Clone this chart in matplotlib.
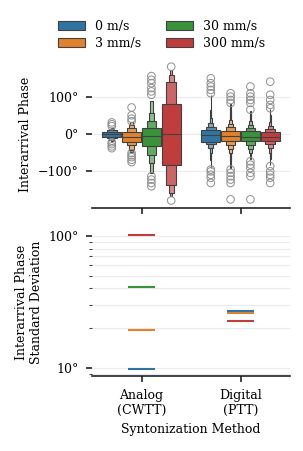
import numpy as np
import matplotlib
matplotlib.use("Agg")
import matplotlib.pyplot as plt
from matplotlib.patches import Patch
from matplotlib.colors import to_rgb

plt.rcParams['font.family'] = ['DejaVu Serif']
plt.rcParams['font.size'] = 9

# ---------------- data ----------------
methods = ["Analog\n(CWTT)", "Digital\n(PTT)"]
speeds = ["0 m/s", "3 mm/s", "30 mm/s", "300 mm/s"]
colors = ["#3274a1", "#e1812c", "#3a923a", "#c03d3e"]

# letter-value boxes (lower, upper) from the inner (IQR) box outwards, degrees
analog_levels = [
    [(-7, 5), (-12, 10), (-16, 14), (-19, 17)],
    [(-21, 5), (-30, 16), (-42, 25), (-49, 33)],
    [(-31, 16), (-57, 36), (-77, 56), (-104, 88)],
    [(-83, 81), (-137, 139), (-157, 158), (-167, 171)],
]
digital_levels = [
    [(-21, 11), (-28, 20), (-37, 29), (-51, 43), (-70, 65), (-90, 105)],
    [(-19, 9), (-30, 18), (-40, 27), (-52, 38), (-70, 60), (-92, 80)],
    [(-20, 7), (-30, 16), (-40, 24), (-50, 35), (-60, 50), (-68, 62)],
    [(-18, 5), (-28, 14), (-38, 22), (-50, 32), (-68, 50), (-84, 66)],
]
analog_medians = [-1, -7, -6, 1]
digital_medians = [-3, -6, -8, -8]
analog_outliers = [
    [21, 26, 31, -22, -27, -33, -38],
    [34, 41, 50, 71, -51, -57, -62, -69, -75],
    [105, 114, 123, 136, 145, 155, -113, -122, -131, -140],
    [180, -178],
]
digital_outliers = [
    [109, 118, 127, 136, 149, -95, -100, -109, -117, -131],
    [83, 91, 100, 109, -95, -104, -113, -122, -131, -175],
    [65, 83, 91, 100, 109, 127, -73, -82, -91, -104, -113, -175],
    [69, 78, 91, 105, 140, -86, -100, -109, -117, -131],
]
# standard deviation of interarrival phase (degrees)
analog_std = [9.8, 19.3, 41.0, 102.0]
digital_std = [27.2, 26.1, 26.6, 22.6]

levels_all = [analog_levels, digital_levels]
medians_all = [analog_medians, digital_medians]
outliers_all = [analog_outliers, digital_outliers]
std_all = [analog_std, digital_std]

# ---------------- figure ----------------
W, H = 303, 451
fig = plt.figure(figsize=(W / 100, H / 100), dpi=100)
ax_l, ax_w, ax_h = 92 / W, 198 / W, 148 / H
ax1 = fig.add_axes([ax_l, 1 - 208 / H, ax_w, ax_h])
ax2 = fig.add_axes([ax_l, 1 - 376 / H, ax_w, ax_h], sharex=ax1)

edge = "#404040"
grid_c = "#ebebeb"
dodge = 0.2
offsets = [-0.3, -0.1, 0.1, 0.3]


def lighten(c, f):
    r = np.array(to_rgb(c))
    return tuple(r + (1 - r) * f)


for m in range(2):
    for h in range(4):
        x = m + offsets[h]
        lv = levels_all[m][h]
        n = len(lv)
        # draw from outermost (thin) to innermost so inner boxes on top
        for k in range(n - 1, -1, -1):
            lo, hi = lv[k]
            w = (dodge * 0.95) * (0.5 ** k)
            ax1.bar(x, hi - lo, bottom=lo, width=w,
                    color=lighten(colors[h], min(0.2 * k, 0.5)),
                    edgecolor=edge, linewidth=0.8, zorder=2 + (n - k) * 0.01)
        w0 = dodge * 0.95
        ax1.plot([x - w0 / 2, x + w0 / 2], [medians_all[m][h]] * 2,
                 color=edge, lw=0.8, zorder=3)
        out = outliers_all[m][h]
        ax1.scatter([x] * len(out), out, s=30, facecolors="none",
                    edgecolors="#8f8f8f", linewidths=0.7, zorder=4)

ax1.set_ylim(-198, 198)
ax1.set_yticks([-100, 0, 100])
ax1.set_yticklabels(["\u2212100\u00b0", "0\u00b0", "100\u00b0"])
ax1.set_xlim(-0.5, 1.5)
ax1.set_ylabel("Interarrival Phase")

for m in range(2):
    for h in [3, 2, 1, 0]:
        ax2.hlines(std_all[m][h], m - 0.14, m + 0.14, colors=colors[h],
                   lw=1.5, zorder=3)
ax2.set_yscale("log")
ax2.set_ylim(8.7, 114.8)
ax2.set_yticks([10, 100])
ax2.set_yticklabels(["10\u00b0", "100\u00b0"])
ax2.yaxis.set_minor_formatter(matplotlib.ticker.NullFormatter())
ax2.set_ylabel("Interarrival Phase\nStandard Deviation")
ax2.set_xticks([0, 1])
ax2.set_xticklabels(methods)
ax2.set_xlabel("Syntonization Method")
ax2.grid(True, which="both", axis="y", color=grid_c, lw=0.8, zorder=0)
ax1.grid(True, axis="y", color=grid_c, lw=0.8, zorder=0)
ax1.set_axisbelow(True)
ax2.set_axisbelow(True)

plt.setp(ax1.get_xticklabels(), visible=False)
for ax in (ax1, ax2):
    for s in ("left", "right", "top"):
        ax.spines[s].set_visible(False)
    ax.spines["bottom"].set_linewidth(1.2)
    ax.spines["bottom"].set_color("#222222")
    ax.tick_params(axis="both", which="major", length=4.5, width=1.2,
                   color="#222222", pad=5)
    ax.tick_params(axis="y", which="minor", length=2.5, width=0.8,
                   color="#444444")

handles = [Patch(facecolor=c, edgecolor=edge, linewidth=0.8) for c in colors]
fig.legend(handles, speeds, loc="center", bbox_to_anchor=(0.532, 0.923),
           ncol=2, frameon=False, handlelength=2.2, handleheight=0.68,
           labelspacing=0.3, columnspacing=2.0, handletextpad=0.75)

fig.savefig("out.png", dpi=100)
